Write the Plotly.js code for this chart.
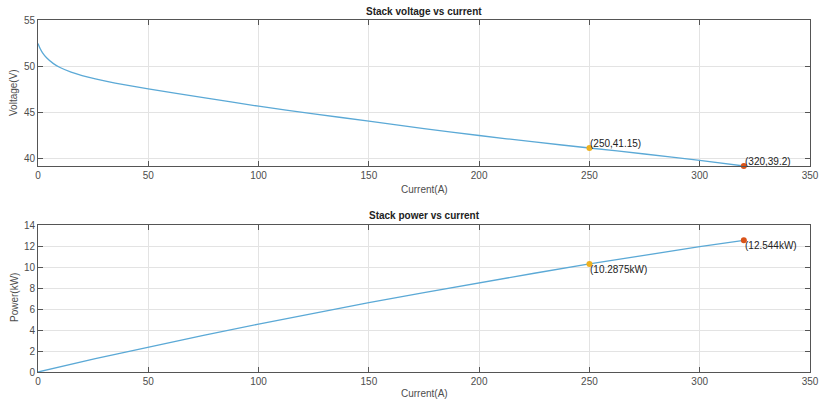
<!DOCTYPE html>
<html>
<head>
<meta charset="utf-8">
<script src="https://cdn.plot.ly/plotly-3.0.1.min.js"></script>
<style>
  html, body { margin: 0; padding: 0; background: #fff; }
  #chart { width: 821px; height: 403px; }
</style>
</head>
<body>
<div id="chart"></div>
<script>
// Fuel-cell stack polarization curve: current (A) against stack voltage (V)
const currentA = [0, 1, 2, 4, 7, 10, 15, 20, 26, 35, 50, 75, 100, 125, 150, 175, 200, 225, 250, 275, 300, 320];
const voltageV = [52.45, 51.88, 51.48, 50.88, 50.28, 49.86, 49.36, 48.99, 48.63, 48.18, 47.55, 46.6, 45.67, 44.85, 44.05, 43.25, 42.5, 41.8, 41.15, 40.5, 39.8, 39.2];
// Stack power (kW) at the same currents
const powerKW = [0, 0.0519, 0.103, 0.2035, 0.352, 0.4986, 0.7404, 0.9798, 1.2644, 1.6863, 2.3775, 3.495, 4.567, 5.6063, 6.6075, 7.5688, 8.5, 9.405, 10.2875, 11.1375, 11.94, 12.544];

// Highlighted operating points
const markI = [250, 320];
const markV = [41.15, 39.2];
const markP = [10.2875, 12.544];
const markColors = ['#EDB120', '#D95319'];
const voltLabels = ['(250,41.15)', '(320,39.2)'];
const powerLabels = ['(10.2875kW)', '(12.544kW)'];

const xTicks = [0, 50, 100, 150, 200, 250, 300, 350];
const vTicks = [40, 45, 50, 55];
const pTicks = [0, 2, 4, 6, 8, 10, 12, 14];

const lineColor = '#5BA9D6';
const font = { family: 'Liberation Sans, Arial, sans-serif', size: 10, color: '#4d4d4d' };

const traces = [
  { x: currentA, y: voltageV, xaxis: 'x', yaxis: 'y', mode: 'lines',
    line: { color: lineColor, width: 1.3, shape: 'spline', smoothing: 0.6 }, hoverinfo: 'skip' },
  { x: markI, y: markV, xaxis: 'x', yaxis: 'y', mode: 'markers',
    marker: { color: markColors, size: 6 }, cliponaxis: false, hoverinfo: 'skip' },
  { x: currentA, y: powerKW, xaxis: 'x2', yaxis: 'y2', mode: 'lines',
    line: { color: lineColor, width: 1.3 }, hoverinfo: 'skip' },
  { x: markI, y: markP, xaxis: 'x2', yaxis: 'y2', mode: 'markers',
    marker: { color: markColors, size: 6 }, cliponaxis: false, hoverinfo: 'skip' }
];

const W = 821, H = 403, L = 38, R = 11;
const fy = px => (H - px) / H;
const fx = px => (px - L) / (W - L - R);

const axisBase = {
  showline: true, linecolor: '#555', linewidth: 1, mirror: 'ticks',
  ticks: 'inside', ticklen: 5, tickcolor: '#555',
  showgrid: true, gridcolor: '#e3e3e3', gridwidth: 1,
  zeroline: false, tickfont: font
};

const titleFont = Object.assign({}, font, { color: '#222', size: 10 });
const annotations = [
  { text: '<b>Stack voltage vs current</b>', xref: 'paper', yref: 'paper', x: 0.5, y: fy(11),
    xanchor: 'center', yanchor: 'middle', showarrow: false, font: titleFont },
  { text: '<b>Stack power vs current</b>', xref: 'paper', yref: 'paper', x: 0.5, y: fy(216),
    xanchor: 'center', yanchor: 'middle', showarrow: false, font: titleFont },
  { text: 'Current(A)', xref: 'paper', yref: 'paper', x: 0.5, y: fy(189),
    xanchor: 'center', yanchor: 'middle', showarrow: false, font: font },
  { text: 'Current(A)', xref: 'paper', yref: 'paper', x: 0.5, y: fy(393),
    xanchor: 'center', yanchor: 'middle', showarrow: false, font: font },
  { text: 'Voltage(V)', xref: 'paper', yref: 'paper', x: fx(14), y: fy(93),
    xanchor: 'center', yanchor: 'middle', textangle: -90, showarrow: false, font: font },
  { text: 'Power(kW)', xref: 'paper', yref: 'paper', x: fx(14), y: fy(298),
    xanchor: 'center', yanchor: 'middle', textangle: -90, showarrow: false, font: font }
];

markI.forEach((xi, k) => {
  annotations.push({ text: voltLabels[k], xref: 'x', yref: 'y', x: xi, y: markV[k],
    xanchor: 'left', yanchor: 'bottom', xshift: -1, yshift: -3, showarrow: false,
    font: Object.assign({}, font, { color: '#222' }) });
  annotations.push({ text: powerLabels[k], xref: 'x2', yref: 'y2', x: xi, y: markP[k],
    xanchor: 'left', yanchor: 'top', xshift: -1, yshift: 2, showarrow: false,
    font: Object.assign({}, font, { color: '#222' }) });
});

const layout = {
  width: W, height: H,
  margin: { l: L, r: R, t: 0, b: 0 },
  paper_bgcolor: '#fff', plot_bgcolor: '#fff',
  showlegend: false,
  xaxis: Object.assign({}, axisBase, { range: [0, 350], tickvals: xTicks, anchor: 'y', domain: [0, 1] }),
  yaxis: Object.assign({}, axisBase, { range: [39.2, 55], tickvals: vTicks, anchor: 'x', domain: [fy(166), fy(20)] }),
  xaxis2: Object.assign({}, axisBase, { range: [0, 350], tickvals: xTicks, anchor: 'y2', domain: [0, 1] }),
  yaxis2: Object.assign({}, axisBase, { range: [0, 14], tickvals: pTicks, anchor: 'x2', domain: [fy(372), fy(225)] }),
  annotations: annotations
};

Plotly.newPlot('chart', traces, layout, { staticPlot: true, displayModeBar: false });
</script>
</body>
</html>
